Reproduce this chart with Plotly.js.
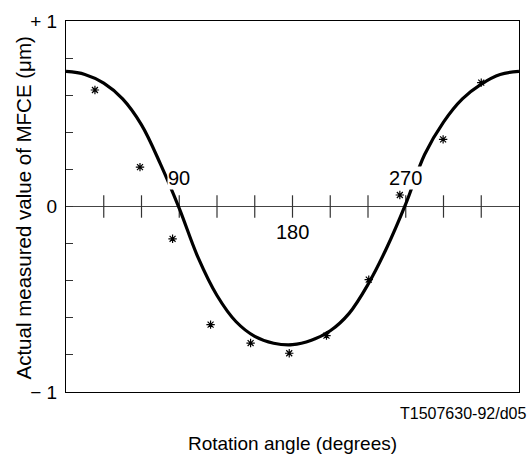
<!DOCTYPE html>
<html>
<head>
<meta charset="utf-8">
<script src="https://cdn.plot.ly/plotly-3.0.1.min.js"></script>
<style>
  html, body { margin: 0; padding: 0; background: #fff; }
  #chart { width: 529px; height: 456px; }
</style>
</head>
<body>
<div id="chart"></div>
<script>
// fitted curve, every 15 degrees
const curveAngle = [0, 15, 30, 45, 60, 75, 90, 105, 120, 135, 150, 165, 180,
                    195, 210, 225, 240, 255, 270, 285, 300, 315, 330, 345, 360];
const curveValue = [0.728, 0.712, 0.665, 0.58, 0.44, 0.23, -0.01, -0.276, -0.48, -0.62, -0.70, -0.737, -0.745,
                    -0.721, -0.67, -0.576, -0.42, -0.221, 0.014, 0.28, 0.455, 0.58, 0.66, 0.712, 0.728];

// measured points (asterisks)
const measuredAngle = [23, 58.8, 84.7, 114.9, 146.7, 177.4, 207, 240.6, 265.3, 299.7, 330];
const measuredValue = [0.628, 0.212, -0.174, -0.637, -0.736, -0.791, -0.696, -0.394, 0.062, 0.362, 0.668];

const angleTicks = [30, 60, 90, 120, 150, 180, 210, 240, 270, 300, 330];
const angleLabelsAbove = [90, 270];
const angleLabelsBelow = [180];

const valueTicks = [-1, -0.8, -0.6, -0.4, -0.2, 0, 0.2, 0.4, 0.6, 0.8, 1];
const valueTickText = ['\u2212 1', '', '', '', '', '0', '', '', '', '', '+ 1'];

const fontFamily = 'Liberation Sans, Arial, sans-serif';

const traces = [
    {
        // tick marks crossing the zero line
        x: angleTicks,
        y: angleTicks.map(() => 0),
        type: 'scatter',
        mode: 'markers',
        marker: { symbol: 'line-ns', size: 16, color: '#333', line: { color: '#333', width: 1.2 } },
        hoverinfo: 'skip'
    },
    {
        x: curveAngle,
        y: curveValue,
        type: 'scatter',
        mode: 'lines',
        line: { color: '#000', width: 3.2, shape: 'spline', smoothing: 1 },
        hoverinfo: 'skip'
    },
    {
        x: measuredAngle,
        y: measuredValue,
        type: 'scatter',
        mode: 'markers',
        marker: { symbol: 'asterisk-open', size: 7, color: '#000', line: { color: '#000', width: 1.2 } },
        hoverinfo: 'skip'
    }
];

const annotations = [];
// the angle labels sit on a white box that breaks the curve, as in the figure
angleLabelsAbove.forEach((a) => {
    annotations.push({ x: a, y: 0, xref: 'x', yref: 'y', text: String(a), showarrow: false,
        yanchor: 'middle', yshift: 29, bgcolor: '#fff', borderpad: 0,
        font: { size: 20, color: '#000', family: fontFamily } });
});
angleLabelsBelow.forEach((a) => {
    annotations.push({ x: a, y: 0, xref: 'x', yref: 'y', text: String(a), showarrow: false,
        yanchor: 'middle', yshift: -25, bgcolor: '#fff', borderpad: 0,
        font: { size: 20, color: '#000', family: fontFamily } });
});
annotations.push({
    x: 1, y: 0, xref: 'paper', yref: 'paper', xanchor: 'right', yanchor: 'top',
    xshift: 9, yshift: -11, showarrow: false, text: 'T1507630-92/d05',
    font: { size: 16, color: '#000', family: fontFamily }
});
// y axis title, placed by hand so it sits where the figure has it
annotations.push({
    x: 0, y: 0.5, xref: 'paper', yref: 'paper', xanchor: 'center', yanchor: 'middle',
    xshift: -43, yshift: -2, textangle: -90, showarrow: false,
    text: 'Actual measured value of MFCE (\u03bcm)',
    font: { size: 20.5, color: '#000', family: fontFamily }
});

const layout = {
    width: 529,
    height: 456,
    margin: { l: 66, r: 10, t: 21, b: 64 },
    paper_bgcolor: '#fff',
    plot_bgcolor: '#fff',
    showlegend: false,
    font: { family: fontFamily, color: '#000' },
    xaxis: {
        range: [0, 360],
        showgrid: false,
        zeroline: false,
        showline: true,
        mirror: true,
        linecolor: '#000',
        linewidth: 1,
        ticks: '',
        showticklabels: false,
        title: { text: 'Rotation angle (degrees)', font: { size: 19, family: fontFamily }, standoff: 44 }
    },
    yaxis: {
        range: [-1, 1],
        showgrid: false,
        zeroline: true,
        zerolinecolor: '#444',
        zerolinewidth: 1.5,
        showline: true,
        mirror: true,
        linecolor: '#000',
        linewidth: 1,
        ticks: 'inside',
        ticklen: 7,
        tickcolor: '#333',
        tickwidth: 1.2,
        tickvals: valueTicks,
        ticktext: valueTickText,
        tickfont: { size: 19, family: fontFamily },
        ticklabelstandoff: 4
    },
    annotations: annotations
};

Plotly.newPlot('chart', traces, layout, { displayModeBar: false, staticPlot: true });
</script>
</body>
</html>
